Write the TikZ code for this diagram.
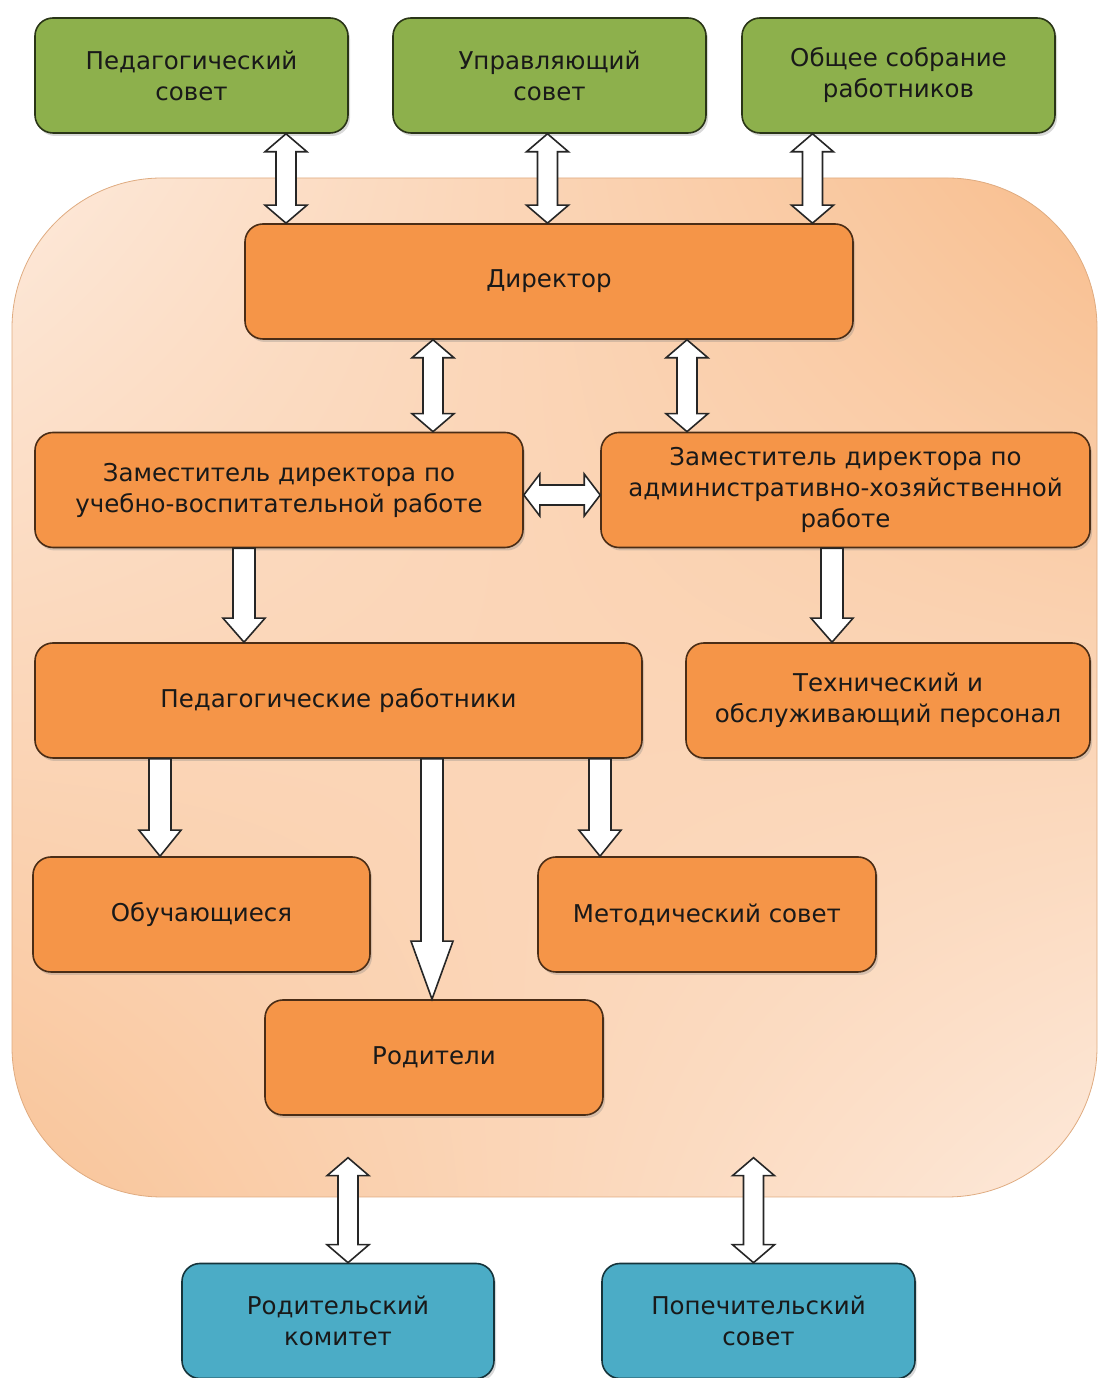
\documentclass[tikz,border=0pt]{standalone}
\usepackage{fontspec}
\setmainfont{DejaVu Sans}
\usepackage{tikz}
\usetikzlibrary{calc, positioning, shadows, shadings}
\definecolor{zel}{HTML}{8DB04C}
\definecolor{oran}{HTML}{F59548}
\definecolor{sin}{HTML}{4BACC6}
\definecolor{fonA}{HTML}{FDE9DA}
\definecolor{fonB}{HTML}{F8BE8E}
\tikzset{
  blk/.style={rectangle, rounded corners=18pt, line width=1.6pt, align=center,
              minimum height=115pt, inner sep=0pt, text=black!90,
              font=\fontsize{24.5}{31}\selectfont,
              drop shadow={shadow xshift=2pt, shadow yshift=-3pt, opacity=0.3}},
  sovet/.style={blk, fill=zel, draw=zel!30!black, minimum width=313pt},
  rab/.style={blk, fill=oran, draw=oran!30!black},
  obsch/.style={blk, fill=sin, draw=sin!30!black, minimum width=313pt},
  strel/.style={draw=black!85, fill=white, line width=1.6pt, line join=miter},
  dvv/.style={strel, to path={let \p1=(\tikztostart), \p2=(\tikztotarget) in
      (\x1,\y1) -- (\x1+21pt,\y1-18pt) -- (\x1+10pt,\y1-18pt) -- (\x1+10pt,\y2+18pt)
      -- (\x1+21pt,\y2+18pt) -- (\x1,\y2) -- (\x1-21pt,\y2+18pt) -- (\x1-10pt,\y2+18pt)
      -- (\x1-10pt,\y1-18pt) -- (\x1-21pt,\y1-18pt) -- cycle}},
  dvh/.style={strel, to path={let \p1=(\tikztostart), \p2=(\tikztotarget) in
      (\x1,\y1) -- (\x1+16pt,\y1+21pt) -- (\x1+16pt,\y1+10pt) -- (\x2-16pt,\y1+10pt)
      -- (\x2-16pt,\y1+21pt) -- (\x2,\y1) -- (\x2-16pt,\y1-21pt) -- (\x2-16pt,\y1-10pt)
      -- (\x1+16pt,\y1-10pt) -- (\x1+16pt,\y1-21pt) -- cycle}},
  vniz/.style={strel, to path={let \p1=(\tikztostart), \p2=(\tikztotarget) in
      (\x1-11pt,\y1) -- (\x1+11pt,\y1) -- (\x1+11pt,\y2+#1) -- (\x1+21pt,\y2+#1)
      -- (\x1,\y2) -- (\x1-21pt,\y2+#1) -- (\x1-11pt,\y2+#1) -- cycle}},
  vniz/.default=24pt
}
\begin{document}
\begin{tikzpicture}[x=1pt, y=1pt]
  \useasboundingbox (0,0) rectangle (1098,1378);
  \node[rectangle, rounded corners=150pt, minimum width=1085pt, minimum height=1019pt,
        upper left=fonA, upper right=fonB, lower left=fonB!85!fonA, lower right=fonA,
        draw=fonB!90!black, line width=0.8pt] (org) at (554.5,690.5) {};
  \node[sovet] (ped) at (191.5,1302.5) {Педагогический\\совет};
  \node[sovet] (upr) at (549.5,1302.5) {Управляющий\\совет};
  \node[sovet] (sobr) at (898.5,1302.5) {Общее собрание\\работников};
  \node[rab, minimum width=608pt] (dir) at (549,1096.5) {Директор};
  \node[rab, minimum width=488pt] (zuvr) at (279,888)
       {Заместитель директора по\\учебно-воспитательной работе};
  \node[rab, minimum width=489pt] (zahr) at (845.5,888)
       {Заместитель директора по\\административно-хозяйственной\\работе};
  \node[rab, minimum width=607pt] (pedr) at (338.5,677.5) {Педагогические работники};
  \node[rab, minimum width=404pt] (tech) at (888,677.5) {Технический и\\обслуживающий персонал};
  \node[rab, minimum width=337pt] (obuch) at (201.5,463.5) {Обучающиеся};
  \node[rab, minimum width=338pt] (metod) at (707,463.5) {Методический совет};
  \node[rab, minimum width=338pt] (rod) at (434,320.5) {Родители};
  \node[obsch, minimum width=312pt] (rkom) at (338,57) {Родительский\\комитет};
  \node[obsch] (popech) at (758.5,57) {Попечительский\\совет};
  \draw[dvv] ([xshift=94.5pt]ped.south) to (dir.north);
  \draw[dvv] ([xshift=-2pt]upr.south) to (dir.north);
  \draw[dvv] ([xshift=-86pt]sobr.south) to (dir.north);
  \draw[dvv] ([xshift=-116pt]dir.south) to (zuvr.north);
  \draw[dvv] ([xshift=138pt]dir.south) to (zahr.north);
  \draw[dvh] ([yshift=-5pt]zuvr.east) to (zahr.west);
  \draw[vniz] ([xshift=-35pt]zuvr.south) to (pedr.north);
  \draw[vniz] ([xshift=-13.5pt]zahr.south) to (tech.north);
  \draw[vniz=26pt] ([xshift=-178.5pt]pedr.south) to (obuch.north);
  \draw[vniz=58pt] ([xshift=93.5pt]pedr.south) to (rod.north);
  \draw[vniz=26pt] ([xshift=261.5pt]pedr.south) to (metod.north);
  \path ([xshift=10pt]rkom.north) ++(0,105) coordinate (rk);
  \path ([xshift=-5pt]popech.north) ++(0,105) coordinate (pk);
  \draw[dvv] (rk) to ([xshift=10pt]rkom.north);
  \draw[dvv] (pk) to ([xshift=-5pt]popech.north);
\end{tikzpicture}
\end{document}
